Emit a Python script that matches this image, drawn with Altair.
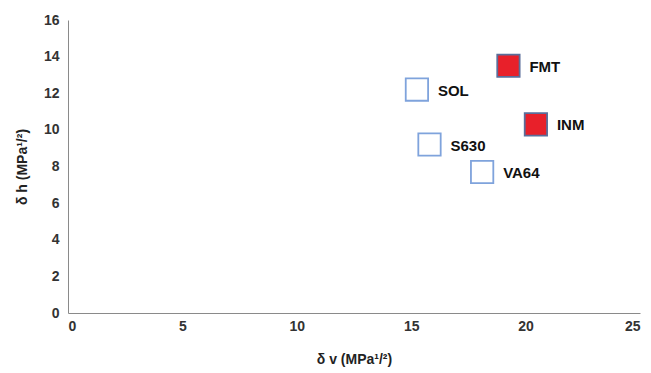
import altair as alt
import pandas as pd

names = ["FMT", "SOL", "INM", "S630", "VA64"]
dv = [19.25, 15.25, 20.45, 15.8, 18.1]
dh = [13.5, 12.2, 10.3, 9.2, 7.7]
kind = ["drug", "polymer", "drug", "polymer", "polymer"]
x_ticks = [0, 5, 10, 15, 20, 25]
y_ticks = [0, 2, 4, 6, 8, 10, 12, 14, 16]

df = pd.DataFrame({"name": names, "dv": dv, "dh": dh, "kind": kind})

x = alt.X("dv:Q", scale=alt.Scale(domain=[0, 25], nice=False),
          axis=alt.Axis(values=x_ticks, tickCount=len(x_ticks), title="δ v (MPa¹/²)",
                        ticks=False, grid=False, domainColor="#8a8a8a",
                        labelOverlap=False,
                        labelFont="Liberation Sans", labelFontWeight="bold",
                        labelFontSize=14, labelColor="#333333", labelPadding=6,
                        titleFont="Liberation Sans", titleFontWeight="bold",
                        titleFontSize=14, titleColor="#222222", titlePadding=19))
y = alt.Y("dh:Q", scale=alt.Scale(domain=[0, 16], nice=False),
          axis=alt.Axis(values=y_ticks, tickCount=len(y_ticks), title="δ h (MPa¹/²)",
                        ticks=False, grid=False, domainColor="#8a8a8a",
                        labelOverlap=False,
                        labelFont="Liberation Sans", labelFontWeight="bold",
                        labelFontSize=14, labelColor="#333333", labelPadding=9,
                        titleFont="Liberation Sans", titleFontWeight="bold",
                        titleFontSize=14, titleColor="#222222", titlePadding=14))

base = alt.Chart(df).encode(x=x, y=y)

pts = base.mark_point(shape="square", size=500, filled=False, opacity=1).encode(
    fill=alt.Color("kind:N", scale=alt.Scale(domain=["drug", "polymer"],
                                              range=["#e8202a", "#ffffff"]), legend=None),
    stroke=alt.Stroke("kind:N", scale=alt.Scale(domain=["drug", "polymer"],
                                                 range=["#5a6e9a", "#7fa3dc"]), legend=None),
    strokeWidth=alt.value(1.8),
    fillOpacity=alt.value(1),
)

labels = base.mark_text(align="left", baseline="middle", dx=21, dy=1,
                        font="Liberation Sans", fontWeight="bold", fontSize=15,
                        color="#111111").encode(text="name:N")

chart = (pts + labels).properties(
    width=572, height=293,
    padding={"left": 68, "top": 20, "right": 11, "bottom": 60},
    autosize=alt.AutoSizeParams(type="none"),
).configure_view(stroke=None)

chart.save("out.html", embed_options={"renderer": "svg", "actions": False})
